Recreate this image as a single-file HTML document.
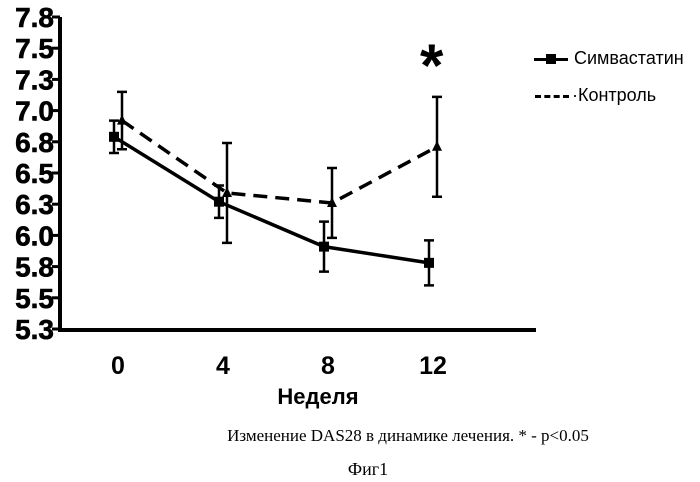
<!DOCTYPE html>
<html><head><meta charset="utf-8"><style>
body{margin:0;background:#fff;width:700px;height:482px;overflow:hidden}
svg{display:block}
</style></head><body>
<svg id="c" width="700" height="482" xmlns="http://www.w3.org/2000/svg"></svg>
<script>
const weeks=[0,4,8,12];
const simMean=[6.79,6.27,5.91,5.78];
const simErr=[0.13,0.13,0.2,0.18];
const ctrlMean=[6.92,6.34,6.26,6.71];
const ctrlErr=[0.23,0.4,0.28,0.4];
const yTicks=[5.25,5.5,5.75,6.0,6.25,6.5,6.75,7.0,7.25,7.5,7.75];
const yTickLabels=["5.3","5.5","5.8","6.0","6.3","6.5","6.8","7.0","7.3","7.5","7.8"];
const xTicks=[0,4,8,12];

const NS="http://www.w3.org/2000/svg";
const svg=document.getElementById('c');
const yS=v=>329-(v-5.25)/2.5*312;
const xS=w=>114+26.25*w;
function mk(t,a,p){const e=document.createElementNS(NS,t);for(const k in a)e.setAttribute(k,a[k]);(p||svg).appendChild(e);return e;}

const ax=mk('path',{d:'M60,17 V330 H536',stroke:'#000','stroke-width':4,fill:'none'});


yTicks.forEach((v,i)=>{
  const y=yS(v);
  const t=mk('line',{x1:52,x2:60,y1:y,y2:y,stroke:'#000','stroke-width':3});
  
  
  const l=mk('text',{x:54,y:y+10,'text-anchor':'end','font-family':'Liberation Sans, sans-serif','font-weight':'bold','font-size':28,'stroke':'#000','stroke-width':0.6});
  
  
  l.textContent=yTickLabels[i];
});
xTicks.forEach(w=>{
  const l=mk('text',{x:xS(w)+4,y:374,'text-anchor':'middle','font-family':'Liberation Sans, sans-serif','font-weight':'bold','font-size':25});
  
  
  l.textContent=String(w);
});
function series(mean,err,off,dash,name,marker){
  const g=mk('g',{});
  
  
  const pts=weeks.map((w,i)=>[xS(w)+off,yS(mean[i])]);
  mk('polyline',{points:pts.map(p=>p.join(',')).join(' '),fill:'none',stroke:'#000','stroke-width':3.5,'stroke-dasharray':dash},g);
  weeks.forEach((w,i)=>{
    const x=pts[i][0],y1=yS(mean[i]+err[i]),y2=yS(mean[i]-err[i]);
    const e=mk('path',{d:`M${x},${y1}V${y2}M${x-5},${y1}H${x+5}M${x-5},${y2}H${x+5}`,stroke:'#000','stroke-width':2.5,fill:'none'},g);
    
    
    let m;
    if(marker==='sq') m=mk('rect',{x:x-5,y:pts[i][1]-5,width:10,height:10,fill:'#000'},g);
    else m=mk('path',{d:`M${x},${pts[i][1]-6}L${x+5},${pts[i][1]+4}L${x-5},${pts[i][1]+4}Z`,fill:'#000'},g);
    
    
  });
}
series(ctrlMean,ctrlErr,8,'14,8','series-control','tri');
series(simMean,simErr,0,'none','series-simvastatin','sq');
</script>
<div style="position:absolute;left:0;top:0;width:700px;height:482px;font-family:'Liberation Sans',sans-serif">
<div style="position:absolute;left:420px;top:36px;font-size:60px;font-weight:bold;line-height:60px">*</div>
<div style="position:absolute;left:534px;top:48px;font-size:18px;white-space:nowrap"><span style="display:inline-block;width:34px;height:3px;background:#000;vertical-align:middle;position:relative;margin-right:6px"><span style="position:absolute;left:12px;top:-4px;width:10px;height:10px;background:#000"></span></span>Симвастатин</div>
<div style="position:absolute;left:535px;top:85px;font-size:18px;white-space:nowrap"><span style="display:inline-block;width:34px;height:0;border-top:3px dashed #000;vertical-align:middle;margin-right:3px"></span>·Контроль</div>
<div style="position:absolute;left:258px;top:384px;width:120px;text-align:center;font-size:22px;font-weight:bold">Неделя</div>
<div style="position:absolute;left:178px;top:426px;width:460px;text-align:center;font-family:'Liberation Serif',serif;font-size:17px;white-space:nowrap">Изменение DAS28 в динамике лечения. * - p&lt;0.05</div>
<div style="position:absolute;left:328px;top:459px;width:80px;text-align:center;font-family:'Liberation Serif',serif;font-size:18px">Фиг1</div>
</div>
</body></html>
